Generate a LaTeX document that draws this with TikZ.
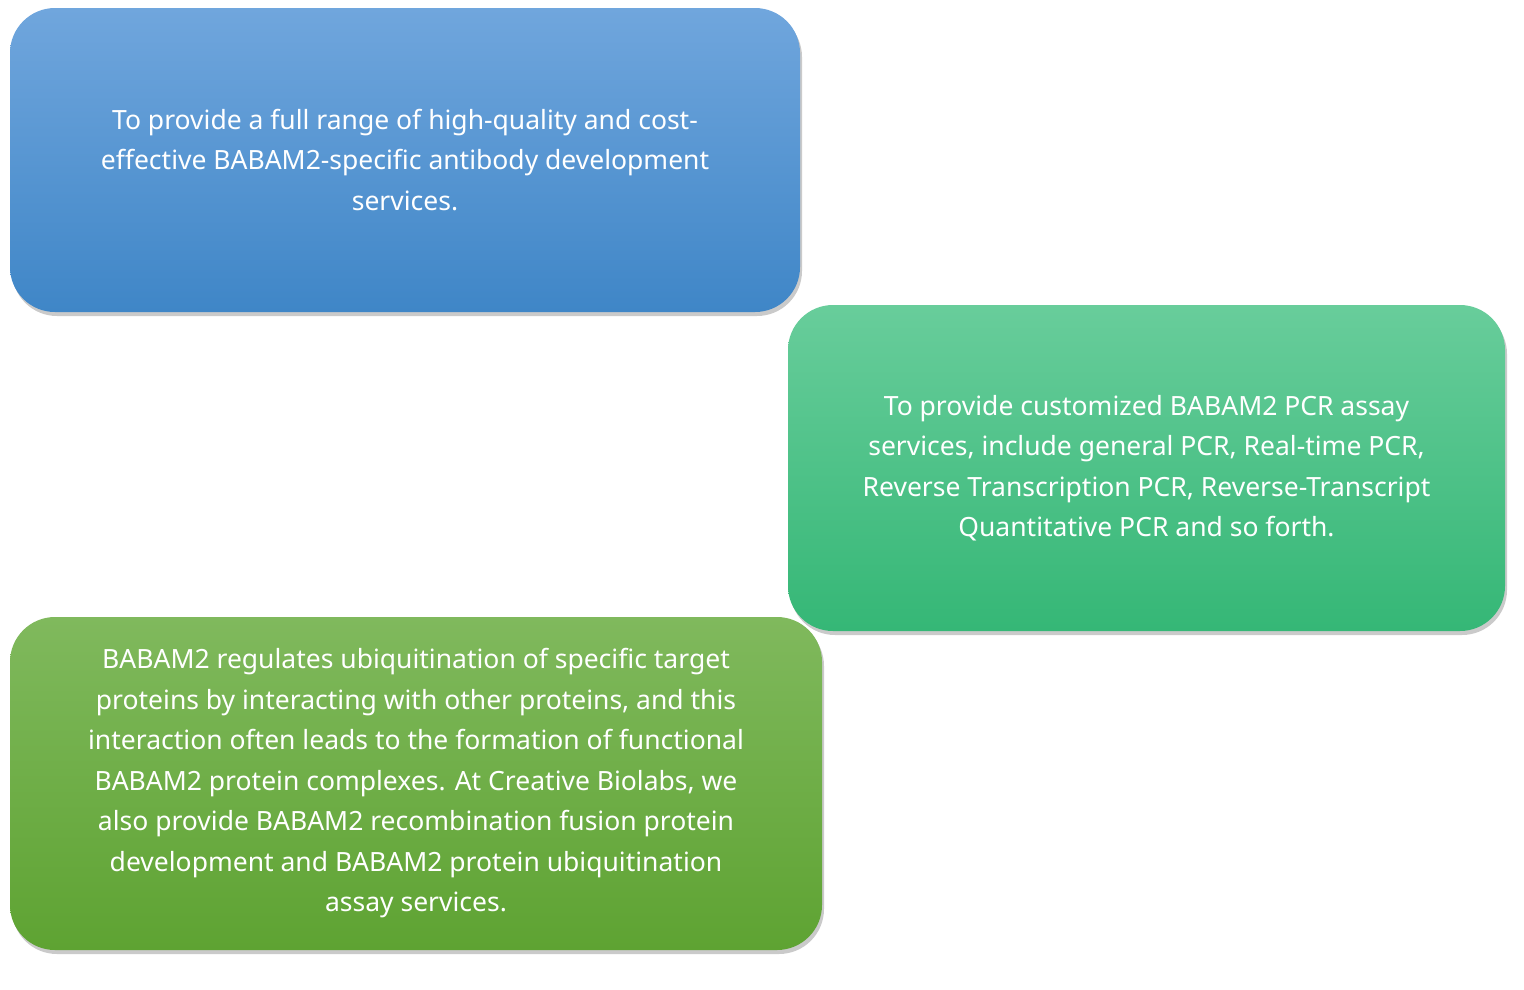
\documentclass[tikz,border=0pt]{standalone}
\usepackage{fontspec}
\setmainfont{Noto Sans}
\usetikzlibrary{shadows}
\definecolor{b1t}{HTML}{70A6DD}\definecolor{b1b}{HTML}{3F86C7}
\definecolor{b2t}{HTML}{68CD9B}\definecolor{b2b}{HTML}{35B776}
\definecolor{b3t}{HTML}{80B95D}\definecolor{b3b}{HTML}{5EA332}
\tikzset{card/.style={rounded corners=45pt, draw=none,
  drop shadow={shadow xshift=2pt,shadow yshift=-4pt,opacity=0.35,fill=black!60},
  text=white, align=center, inner sep=0pt,
  font=\fontsize{26.5pt}{40.5pt}\selectfont}}
\begin{document}
\begin{tikzpicture}[x=1pt,y=-1pt]
\useasboundingbox (0,0) rectangle (1524,989);
\node[card, top color=b1t, bottom color=b1b, minimum width=790pt, minimum height=304pt] (a) at (405,160)
 {To provide a full range of high-quality and cost-\\effective BABAM2-specific antibody development\\services.};
\node[card, top color=b2t, bottom color=b2b, minimum width=717pt, minimum height=326pt] (b) at (1146.5,468)
 {To provide customized BABAM2 PCR assay\\services, include general PCR, Real-time PCR,\\Reverse Transcription PCR, Reverse-Transcript\\Quantitative PCR and so forth.};
\node[card, top color=b3t, bottom color=b3b, minimum width=812pt, minimum height=333pt] (c) at (416,783.5)
 {BABAM2 regulates ubiquitination of specific target\\proteins by interacting with other proteins, and this\\interaction often leads to the formation of functional\\BABAM2 protein complexes. At Creative Biolabs, we\\also provide BABAM2 recombination fusion protein\\development and BABAM2 protein ubiquitination\\assay services.};
\end{tikzpicture}
\end{document}
